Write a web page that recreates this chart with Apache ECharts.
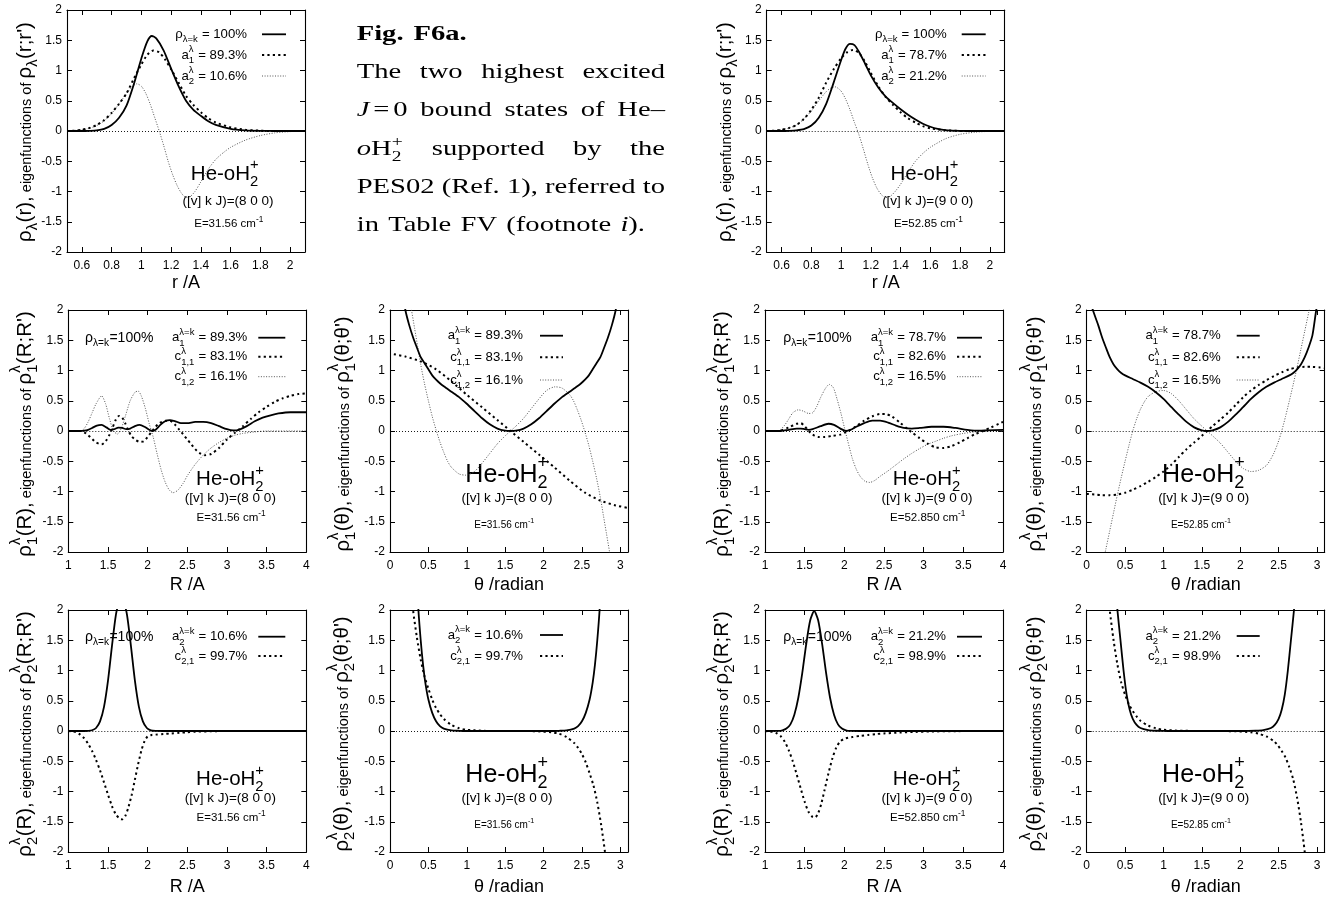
<!DOCTYPE html>
<html>
<head>
<meta charset="utf-8">
<script src="https://cdn.jsdelivr.net/npm/echarts@6.0.0/dist/echarts.min.js"></script>
<style>
  html, body { margin: 0; padding: 0; background: #fff; }
  #chart { width: 1333px; height: 897px; }
</style>
</head>
<body>
<div id="chart"></div>
<script>
// ---------------------------------------------------------------------------
// Axis ticks
// ---------------------------------------------------------------------------
const rTicks = [0.6, 0.8, 1, 1.2, 1.4, 1.6, 1.8, 2];
const RTicks = [1, 1.5, 2, 2.5, 3, 3.5, 4];
const thTicks = [0, 0.5, 1, 1.5, 2, 2.5, 3];
const yTicks = [-2, -1.5, -1, -0.5, 0, 0.5, 1, 1.5, 2];

// ---------------------------------------------------------------------------
// Top row: r-coordinate density and its eigenfunctions, states (8 0 0) / (9 0 0)
// ---------------------------------------------------------------------------
const r8_rho = [[0.5,0],[0.6,0],[0.65,0.003],[0.7,0.01],[0.75,0.035],[0.8,0.1],[0.85,0.22],[0.9,0.42],[0.95,0.78],[1.0,1.2],[1.04,1.48],[1.07,1.57],[1.1,1.53],[1.15,1.33],[1.2,1.03],[1.25,0.74],[1.3,0.5],[1.35,0.35],[1.4,0.25],[1.45,0.16],[1.5,0.1],[1.6,0.035],[1.7,0.01],[1.8,0.002],[1.9,0],[2.1,0]];
const r8_a1 = [[0.5,0],[0.55,0.005],[0.6,0.02],[0.65,0.05],[0.7,0.1],[0.75,0.18],[0.8,0.3],[0.85,0.45],[0.9,0.62],[0.95,0.87],[1.0,1.1],[1.04,1.26],[1.08,1.33],[1.12,1.3],[1.16,1.18],[1.2,1.02],[1.25,0.8],[1.3,0.58],[1.35,0.43],[1.4,0.31],[1.45,0.21],[1.5,0.14],[1.6,0.06],[1.7,0.02],[1.8,0.005],[1.9,0],[2.1,0]];
const r8_a2 = [[0.5,0],[0.6,0.02],[0.65,0.045],[0.7,0.09],[0.75,0.17],[0.8,0.29],[0.85,0.45],[0.9,0.62],[0.94,0.74],[0.97,0.78],[1.0,0.74],[1.03,0.62],[1.06,0.44],[1.09,0.22],[1.12,0],[1.15,-0.24],[1.18,-0.5],[1.21,-0.72],[1.24,-0.9],[1.27,-1.03],[1.3,-1.1],[1.33,-1.08],[1.36,-1.0],[1.4,-0.84],[1.45,-0.63],[1.5,-0.47],[1.55,-0.36],[1.6,-0.27],[1.7,-0.15],[1.8,-0.075],[1.9,-0.03],[2.0,-0.01],[2.1,0]];

const r9_rho = [[0.5,0],[0.6,0],[0.65,0.003],[0.7,0.01],[0.75,0.03],[0.8,0.09],[0.85,0.22],[0.9,0.45],[0.95,0.8],[1.0,1.17],[1.03,1.36],[1.06,1.44],[1.09,1.42],[1.12,1.31],[1.16,1.12],[1.2,0.92],[1.25,0.72],[1.3,0.57],[1.35,0.46],[1.4,0.36],[1.45,0.27],[1.5,0.19],[1.55,0.12],[1.6,0.07],[1.65,0.035],[1.7,0.015],[1.8,0.003],[1.9,0],[2.1,0]];
const r9_a1 = [[0.5,0],[0.55,0.005],[0.6,0.02],[0.65,0.05],[0.7,0.1],[0.75,0.2],[0.8,0.35],[0.85,0.55],[0.9,0.8],[0.95,1.02],[1.0,1.2],[1.04,1.3],[1.08,1.34],[1.12,1.29],[1.16,1.15],[1.2,0.96],[1.25,0.74],[1.3,0.56],[1.35,0.43],[1.4,0.31],[1.45,0.21],[1.5,0.14],[1.55,0.08],[1.6,0.045],[1.7,0.012],[1.8,0.002],[1.9,0],[2.1,0]];
const r9_a2 = [[0.5,0],[0.6,0.02],[0.65,0.05],[0.7,0.1],[0.75,0.2],[0.8,0.33],[0.85,0.5],[0.9,0.65],[0.93,0.71],[0.96,0.73],[1.0,0.66],[1.03,0.53],[1.06,0.35],[1.09,0.14],[1.12,-0.06],[1.15,-0.3],[1.18,-0.55],[1.21,-0.77],[1.24,-0.94],[1.27,-1.05],[1.3,-1.1],[1.33,-1.08],[1.36,-1.01],[1.4,-0.88],[1.45,-0.68],[1.5,-0.5],[1.55,-0.37],[1.6,-0.27],[1.7,-0.13],[1.8,-0.055],[1.9,-0.02],[2.0,-0.005],[2.1,0]];

// ---------------------------------------------------------------------------
// Middle row: first eigenvector (λ = 1), R and θ factors
// ---------------------------------------------------------------------------
const R8_1_a = [[1,0],[1.15,0],[1.2,0.005],[1.25,0.02],[1.3,0.05],[1.36,0.09],[1.42,0.1],[1.48,0.06],[1.53,0.02],[1.58,0.03],[1.63,0.055],[1.68,0.05],[1.73,0.03],[1.78,0.04],[1.84,0.08],[1.9,0.1],[1.96,0.07],[2.02,0.02],[2.06,0],[2.1,0.02],[2.16,0.1],[2.22,0.16],[2.28,0.18],[2.35,0.16],[2.42,0.13],[2.5,0.13],[2.6,0.15],[2.7,0.15],[2.8,0.13],[2.9,0.08],[3.0,0.03],[3.08,0.01],[3.15,0.02],[3.25,0.08],[3.35,0.16],[3.45,0.22],[3.55,0.26],[3.65,0.29],[3.8,0.31],[3.9,0.31],[4.0,0.31]];
const R8_1_c11 = [[1,0],[1.15,0],[1.2,-0.02],[1.25,-0.07],[1.3,-0.13],[1.35,-0.19],[1.42,-0.22],[1.47,-0.17],[1.52,-0.06],[1.56,0.06],[1.6,0.19],[1.64,0.25],[1.68,0.22],[1.72,0.12],[1.76,0],[1.8,-0.09],[1.85,-0.15],[1.9,-0.18],[1.95,-0.17],[2.0,-0.1],[2.05,-0.01],[2.1,0.07],[2.15,0.13],[2.22,0.17],[2.28,0.17],[2.34,0.11],[2.4,0.02],[2.45,-0.06],[2.5,-0.14],[2.55,-0.22],[2.6,-0.3],[2.65,-0.36],[2.72,-0.4],[2.8,-0.38],[2.9,-0.28],[3.0,-0.14],[3.1,-0.03],[3.2,0.08],[3.3,0.2],[3.4,0.31],[3.5,0.4],[3.6,0.48],[3.7,0.54],[3.8,0.58],[3.9,0.61],[4.0,0.62]];
const R8_1_c12 = [[1,0],[1.15,0],[1.2,0.04],[1.25,0.15],[1.3,0.3],[1.35,0.45],[1.42,0.58],[1.47,0.45],[1.52,0.2],[1.57,0],[1.62,-0.05],[1.67,0.05],[1.72,0.25],[1.78,0.5],[1.84,0.64],[1.88,0.66],[1.92,0.58],[1.97,0.38],[2.02,0.12],[2.07,-0.1],[2.12,-0.38],[2.17,-0.64],[2.22,-0.84],[2.27,-0.97],[2.32,-1.02],[2.38,-0.98],[2.45,-0.86],[2.5,-0.74],[2.6,-0.55],[2.7,-0.4],[2.8,-0.28],[2.9,-0.19],[3.0,-0.12],[3.1,-0.07],[3.2,-0.04],[3.35,-0.015],[3.5,0],[4.0,0]];

const T8_1_a = [[0.15,2.4],[0.2,2.0],[0.25,1.75],[0.3,1.55],[0.35,1.38],[0.4,1.22],[0.45,1.12],[0.5,1.02],[0.55,0.92],[0.6,0.85],[0.65,0.79],[0.7,0.74],[0.8,0.65],[0.9,0.56],[1.0,0.45],[1.1,0.33],[1.2,0.21],[1.3,0.11],[1.4,0.04],[1.5,0.005],[1.57,0],[1.64,0.005],[1.74,0.04],[1.84,0.11],[1.94,0.21],[2.04,0.33],[2.14,0.45],[2.24,0.56],[2.34,0.65],[2.44,0.74],[2.49,0.79],[2.54,0.85],[2.59,0.92],[2.64,1.02],[2.69,1.12],[2.74,1.22],[2.79,1.38],[2.84,1.55],[2.89,1.75],[2.94,2.0],[2.99,2.4]];
const T8_1_c11 = [[0.05,1.27],[0.2,1.23],[0.4,1.15],[0.6,1.02],[0.8,0.82],[1.0,0.6],[1.2,0.39],[1.4,0.18],[1.57,0],[1.74,-0.18],[1.94,-0.39],[2.14,-0.6],[2.34,-0.82],[2.54,-1.02],[2.74,-1.15],[2.94,-1.23],[3.09,-1.27]];
const T8_1_c12 = [[0.24,2.3],[0.28,2.0],[0.32,1.7],[0.36,1.4],[0.4,1.1],[0.45,0.78],[0.5,0.5],[0.55,0.24],[0.6,0.02],[0.65,-0.18],[0.7,-0.35],[0.75,-0.5],[0.8,-0.6],[0.9,-0.71],[0.99,-0.73],[1.1,-0.67],[1.2,-0.53],[1.3,-0.37],[1.4,-0.21],[1.5,-0.08],[1.57,0],[1.64,0.08],[1.74,0.21],[1.84,0.37],[1.94,0.53],[2.04,0.67],[2.15,0.73],[2.24,0.71],[2.34,0.6],[2.39,0.5],[2.44,0.35],[2.49,0.18],[2.54,-0.02],[2.59,-0.24],[2.64,-0.5],[2.69,-0.78],[2.74,-1.1],[2.78,-1.4],[2.82,-1.7],[2.86,-2.0],[2.9,-2.3]];

const R9_1_a = [[1,0],[1.2,0],[1.3,0.02],[1.4,0.04],[1.45,0.04],[1.5,0.03],[1.55,0.02],[1.6,0.03],[1.7,0.08],[1.8,0.12],[1.87,0.1],[1.95,0.04],[2.02,0],[2.08,0.02],[2.15,0.07],[2.25,0.13],[2.35,0.17],[2.45,0.17],[2.55,0.14],[2.65,0.09],[2.75,0.05],[2.85,0.04],[2.95,0.05],[3.1,0.07],[3.25,0.07],[3.4,0.05],[3.55,0.02],[3.7,0.005],[3.8,0.01],[4.0,0.02]];
const R9_1_c11 = [[1,0],[1.15,0],[1.2,0.01],[1.3,0.06],[1.4,0.12],[1.45,0.13],[1.5,0.08],[1.55,0],[1.6,-0.06],[1.67,-0.1],[1.75,-0.1],[1.85,-0.08],[1.95,-0.06],[2.0,-0.03],[2.05,0],[2.15,0.08],[2.25,0.17],[2.35,0.24],[2.45,0.28],[2.52,0.28],[2.6,0.24],[2.7,0.14],[2.8,0.03],[2.85,-0.02],[2.95,-0.12],[3.05,-0.21],[3.15,-0.27],[3.25,-0.28],[3.35,-0.25],[3.45,-0.19],[3.55,-0.12],[3.65,-0.05],[3.75,0],[3.85,0.06],[3.95,0.12],[4.0,0.15]];
const R9_1_c12 = [[1,0],[1.15,0],[1.2,0.03],[1.25,0.1],[1.3,0.2],[1.35,0.3],[1.42,0.35],[1.48,0.33],[1.55,0.29],[1.6,0.3],[1.65,0.4],[1.7,0.55],[1.76,0.7],[1.81,0.77],[1.86,0.72],[1.91,0.52],[1.96,0.28],[2.0,0.06],[2.04,-0.15],[2.1,-0.45],[2.15,-0.63],[2.2,-0.75],[2.26,-0.83],[2.32,-0.85],[2.38,-0.82],[2.45,-0.75],[2.55,-0.66],[2.65,-0.56],[2.75,-0.46],[2.85,-0.37],[2.95,-0.29],[3.05,-0.22],[3.15,-0.17],[3.25,-0.12],[3.35,-0.08],[3.5,-0.04],[3.65,-0.015],[3.8,0],[4.0,0]];

const T9_1_a = [[0.02,2.25],[0.08,2.0],[0.15,1.75],[0.2,1.55],[0.25,1.38],[0.3,1.22],[0.35,1.1],[0.4,1.02],[0.45,0.96],[0.5,0.92],[0.6,0.86],[0.7,0.8],[0.8,0.73],[0.9,0.64],[1.0,0.53],[1.1,0.4],[1.2,0.27],[1.3,0.15],[1.4,0.06],[1.5,0.01],[1.57,0],[1.64,0.01],[1.74,0.06],[1.84,0.15],[1.94,0.27],[2.04,0.4],[2.14,0.53],[2.24,0.64],[2.34,0.73],[2.44,0.8],[2.54,0.86],[2.64,0.92],[2.69,0.96],[2.74,1.02],[2.79,1.1],[2.84,1.22],[2.89,1.38],[2.94,1.58],[2.99,2.0],[3.05,2.4]];
const T9_1_c11 = [[0,-1.04],[0.1,-1.05],[0.2,-1.06],[0.3,-1.06],[0.4,-1.05],[0.5,-1.02],[0.6,-0.97],[0.7,-0.91],[0.8,-0.84],[0.9,-0.76],[1.0,-0.67],[1.1,-0.56],[1.2,-0.43],[1.3,-0.3],[1.4,-0.19],[1.5,-0.08],[1.57,0],[1.64,0.08],[1.74,0.19],[1.84,0.3],[1.94,0.43],[2.04,0.56],[2.14,0.67],[2.24,0.76],[2.34,0.84],[2.44,0.91],[2.54,0.97],[2.64,1.02],[2.74,1.05],[2.84,1.06],[2.94,1.06],[3.04,1.05],[3.1,1.04]];
const T9_1_c12 = [[0.2,-2.25],[0.25,-1.95],[0.3,-1.65],[0.35,-1.35],[0.4,-1.05],[0.45,-0.77],[0.5,-0.5],[0.55,-0.24],[0.6,0],[0.65,0.2],[0.7,0.36],[0.75,0.48],[0.8,0.57],[0.9,0.65],[1.0,0.67],[1.1,0.62],[1.2,0.5],[1.3,0.35],[1.4,0.2],[1.5,0.08],[1.57,0],[1.64,-0.08],[1.74,-0.2],[1.84,-0.35],[1.94,-0.5],[2.04,-0.62],[2.14,-0.67],[2.24,-0.65],[2.34,-0.57],[2.39,-0.48],[2.44,-0.36],[2.49,-0.2],[2.54,0],[2.59,0.24],[2.64,0.5],[2.69,0.77],[2.74,1.05],[2.79,1.35],[2.84,1.65],[2.89,1.95],[2.94,2.25]];

// ---------------------------------------------------------------------------
// Bottom row: second eigenvector (λ = 2), R and θ factors
// ---------------------------------------------------------------------------
const R8_2_a = [[1,0],[1.2,0],[1.25,0.002],[1.3,0.012],[1.35,0.05],[1.4,0.16],[1.45,0.4],[1.5,0.83],[1.55,1.4],[1.6,1.92],[1.64,2.12],[1.67,2.15],[1.7,2.12],[1.74,1.92],[1.79,1.4],[1.84,0.83],[1.89,0.4],[1.94,0.16],[1.99,0.05],[2.04,0.012],[2.1,0.002],[2.2,0],[4,0]];
const R8_2_c21 = [[1,0],[1.05,-0.005],[1.1,-0.02],[1.15,-0.06],[1.2,-0.12],[1.25,-0.21],[1.3,-0.33],[1.35,-0.48],[1.4,-0.65],[1.45,-0.85],[1.5,-1.05],[1.55,-1.24],[1.6,-1.38],[1.65,-1.45],[1.68,-1.46],[1.72,-1.4],[1.76,-1.25],[1.8,-1.05],[1.84,-0.8],[1.88,-0.55],[1.92,-0.33],[1.96,-0.17],[2.0,-0.09],[2.05,-0.065],[2.1,-0.06],[2.2,-0.05],[2.3,-0.04],[2.4,-0.03],[2.5,-0.02],[2.6,-0.012],[2.8,-0.005],[3.0,0],[4,0]];

const T8_2_a = [[0.3,3.5],[0.35,2.5],[0.37,2.0],[0.4,1.5],[0.43,1.1],[0.46,0.8],[0.5,0.52],[0.55,0.3],[0.6,0.16],[0.65,0.08],[0.7,0.04],[0.8,0.01],[0.9,0.003],[1.0,0],[2.1,0],[2.2,0.003],[2.3,0.01],[2.4,0.04],[2.45,0.08],[2.5,0.16],[2.55,0.3],[2.6,0.52],[2.64,0.8],[2.67,1.1],[2.7,1.5],[2.73,2.0],[2.75,2.5],[2.8,3.5]];
const T8_2_c21 = [[0.25,2.6],[0.3,2.0],[0.35,1.55],[0.4,1.18],[0.45,0.9],[0.5,0.7],[0.55,0.52],[0.6,0.38],[0.65,0.28],[0.7,0.2],[0.8,0.1],[0.9,0.045],[1.0,0.02],[1.2,0.004],[1.4,0],[1.7,0],[1.9,-0.004],[2.1,-0.02],[2.2,-0.045],[2.3,-0.1],[2.4,-0.2],[2.45,-0.28],[2.5,-0.38],[2.55,-0.52],[2.6,-0.7],[2.65,-0.9],[2.7,-1.18],[2.75,-1.55],[2.8,-2.0],[2.85,-2.6]];

const R9_2_a = [[1,0],[1.17,0.002],[1.22,0.012],[1.27,0.04],[1.32,0.11],[1.37,0.27],[1.42,0.55],[1.47,0.96],[1.52,1.44],[1.57,1.83],[1.62,1.98],[1.67,1.83],[1.72,1.44],[1.77,0.96],[1.82,0.55],[1.87,0.27],[1.92,0.11],[1.97,0.04],[2.02,0.012],[2.07,0.002],[2.2,0],[4,0]];
const R9_2_c21 = [[1,0],[1.05,-0.005],[1.1,-0.015],[1.15,-0.04],[1.2,-0.09],[1.25,-0.18],[1.3,-0.32],[1.35,-0.5],[1.4,-0.72],[1.45,-0.95],[1.5,-1.17],[1.55,-1.34],[1.6,-1.42],[1.63,-1.43],[1.67,-1.36],[1.71,-1.2],[1.75,-0.98],[1.8,-0.7],[1.85,-0.45],[1.9,-0.27],[1.95,-0.17],[2.0,-0.13],[2.05,-0.11],[2.1,-0.1],[2.2,-0.08],[2.3,-0.065],[2.4,-0.05],[2.5,-0.04],[2.7,-0.025],[2.9,-0.015],[3.1,-0.008],[3.4,-0.003],[3.7,0],[4,0]];

const T9_2_a = [[0.36,2.6],[0.4,2.0],[0.44,1.5],[0.48,1.0],[0.52,0.6],[0.56,0.35],[0.6,0.2],[0.65,0.1],[0.7,0.05],[0.8,0.015],[0.9,0.004],[1.0,0.001],[1.1,0],[2.0,0],[2.1,0.001],[2.2,0.004],[2.3,0.015],[2.4,0.05],[2.45,0.1],[2.5,0.2],[2.54,0.35],[2.58,0.6],[2.62,1.0],[2.66,1.5],[2.7,2.0],[2.74,2.6]];
const T9_2_c21 = [[0.26,2.5],[0.3,2.0],[0.35,1.5],[0.4,1.1],[0.45,0.8],[0.5,0.6],[0.55,0.44],[0.6,0.33],[0.65,0.24],[0.7,0.17],[0.8,0.09],[0.9,0.045],[1.0,0.02],[1.2,0.005],[1.4,0.001],[1.57,0],[1.74,-0.001],[1.94,-0.005],[2.14,-0.02],[2.24,-0.045],[2.34,-0.09],[2.44,-0.17],[2.49,-0.24],[2.54,-0.33],[2.59,-0.44],[2.64,-0.6],[2.69,-0.8],[2.74,-1.1],[2.79,-1.5],[2.84,-2.0],[2.88,-2.5]];

// ---------------------------------------------------------------------------
// Weights, state labels and energies
// ---------------------------------------------------------------------------
const pct8 = { rho: '100%', a1: '89.3%', a2: '10.6%', c11: '83.1%', c12: '16.1%', c21: '99.7%' };
const pct9 = { rho: '100%', a1: '78.7%', a2: '21.2%', c11: '82.6%', c12: '16.5%', c21: '98.9%' };
const state8 = '([v] k J)=(8 0 0)';
const state9 = '([v] k J)=(9 0 0)';
const energy8 = 'E=31.56 cm';
const energy9 = 'E=52.85 cm';
const energy9R = 'E=52.850 cm';

// ---------------------------------------------------------------------------
// Small text-layout helpers (runs, stacked super/subscripts)
// ---------------------------------------------------------------------------
const SANS = '"Liberation Sans", Arial, Helvetica, sans-serif';
const SERIF = '"Liberation Serif", "Times New Roman", serif';
const mctx = document.createElement('canvas').getContext('2d');
function textWidth(t, fs, fam, st, wt) {
  mctx.font = (st || 'normal') + ' ' + (wt || 'normal') + ' ' + fs + 'px ' + fam;
  return mctx.measureText(t).width;
}
const T = (t, fs, o) => Object.assign({ t: t, fs: fs }, o || {});
const SS = (sup, sub, fs, o) => Object.assign({ stack: true, sup: sup, sub: sub, fs: fs }, o || {});
const GAP = px => ({ gap: px });

function layout(pieces, fam) {
  let x = 0;
  const runs = [];
  pieces.forEach(p => {
    if (p.gap != null) { x += p.gap; return; }
    const f = p.fam || fam;
    if (p.stack) {
      const s = p.sfs || p.fs * 0.72;
      let w = 0;
      if (p.sup) {
        runs.push({ t: p.sup, x: x, dy: -p.fs * (p.supUp != null ? p.supUp : 0.5), fs: s, fam: f, st: p.st, wt: p.wt });
        w = Math.max(w, textWidth(p.sup, s, f, p.st, p.wt));
      }
      if (p.sub) {
        runs.push({ t: p.sub, x: x, dy: p.fs * (p.subDown != null ? p.subDown : 0.3), fs: s, fam: f, st: p.st, wt: p.wt });
        w = Math.max(w, textWidth(p.sub, s, f, p.st, p.wt));
      }
      x += w + (p.after != null ? p.after : 0.5);
      return;
    }
    runs.push({ t: p.t, x: x, dy: p.dy || 0, fs: p.fs, fam: f, st: p.st, wt: p.wt });
    x += textWidth(p.t, p.fs, f, p.st, p.wt);
  });
  return { runs: runs, width: x };
}

function runsToChildren(runs, off, base, fill) {
  return runs.map(r => ({
    type: 'text', silent: true,
    x: off + r.x, y: base + r.dy - 0.35 * r.fs,
    style: {
      text: r.t, fontSize: r.fs, fontFamily: r.fam,
      fontStyle: r.st || 'normal', fontWeight: r.wt || 'normal',
      fill: fill || '#000', align: 'left', verticalAlign: 'middle'
    }
  }));
}

// o: x, y (anchor), align, rotation, baseline (local baseline offset), fam
function mathText(pieces, o) {
  const L = layout(pieces, o.fam || SANS);
  const off = o.align === 'center' ? -L.width / 2 : (o.align === 'right' ? -L.width : 0);
  return {
    type: 'group', x: o.x, y: o.y, rotation: o.rotation || 0, silent: true,
    children: runsToChildren(L.runs, off, o.baseline || 0, o.fill)
  };
}

// ---------------------------------------------------------------------------
// Panel text: legends, axis titles, annotations
// ---------------------------------------------------------------------------
const LF = 13.2;
const legTop = p => [
  [T('ρ', LF), SS(null, 'λ=k', LF, { subDown: 0.3 }), T(' = ' + p.rho, LF)],
  [T('a', LF), SS('λ', '1', LF), T(' = ' + p.a1, LF)],
  [T('a', LF), SS('λ', '2', LF), T(' = ' + p.a2, LF)]
];
const legMid = p => [
  [T('a', LF), SS('λ=k', '1', LF), T(' = ' + p.a1, LF)],
  [T('c', LF), SS('λ', '1,1', LF), T(' = ' + p.c11, LF)],
  [T('c', LF), SS('λ', '1,2', LF), T(' = ' + p.c12, LF)]
];
const legBot = p => [
  [T('a', LF), SS('λ=k', '2', LF), T(' = ' + p.a2, LF)],
  [T('c', LF), SS('λ', '2,1', LF), T(' = ' + p.c21, LF)]
];
const rhoLabel = [T('ρ', 14), SS(null, 'λ=k', 14, { subDown: 0.3 }), T('=100%', 14)];

const YF = 20.5, yf = 14.5;
function yTitle(v, n) {
  const rho = n
    ? [T('ρ', YF), SS('λ', String(n), YF, { supUp: 0.52, subDown: 0.3 })]
    : [T('ρ', YF), SS(null, 'λ', YF, { subDown: 0.3 })];
  return rho.concat([T('(' + v + '),', YF), T(' eigenfunctions of ', yf)], rho, [T('(' + v + ';' + v + "')", YF)]);
}

const AX = {
  r: { min: 0.5, max: 2.1, ticks: rTicks, name: 'r /A' },
  R: { min: 1, max: 4, ticks: RTicks, name: 'R /A' },
  T: { min: 0, max: 3.1, ticks: thTicks, name: 'θ /radian' }
};

// annotation placement per panel type, relative to the plot area
const ANN = {
  r: { he: [158, 171.5], st: [161, 196], en: [162, 218], hf: 20.5, sf: 13.5, ef: 11.5 },
  R: { he: [162, 177], st: [162, 193.5], en: [163, 212], hf: 20.5, sf: 13.5, ef: 11.5 },
  T: { he: [117, 173.5], st: [117, 193.2], en: [114.5, 218.5], hf: 25, sf: 13.5, ef: 10 }
};

const STY = {
  solid: { color: '#000', width: 1.8, type: 'solid' },
  dash: { color: '#000', width: 2, type: [2.2, 3.2] },
  dot: { color: '#555', width: 1, type: [1, 1.6] }
};
const STY_ORDER = ['solid', 'dash', 'dot'];

const panels = [
  { pos: [67, 10], kind: 'r', gap: 22, data: [r8_rho, r8_a1, r8_a2], leg: legTop(pct8), legRight: 180, legRows: [24.3, 45, 66], sample: [195, 219],
    state: state8, energy: energy8, title: [25, 132, yTitle('r', 0)] },
  { pos: [766.7, 10], kind: 'r', gap: 22, data: [r9_rho, r9_a1, r9_a2], leg: legTop(pct9), legRight: 180, legRows: [24.3, 45, 66], sample: [195, 219],
    state: state9, energy: energy9, title: [725, 132, yTitle('r', 0)] },
  { pos: [68.3, 310], kind: 'R', gap: 24, data: [R8_1_a, R8_1_c11, R8_1_c12], leg: legMid(pct8), legRight: 179, legRows: [27.7, 46.7, 66.7], sample: [190, 217],
    rho: [16.7, 28], state: state8, energy: energy8, title: [25, 434, yTitle('R', 1)] },
  { pos: [390, 310], kind: 'T', gap: 24, data: [T8_1_a, T8_1_c11, T8_1_c12], leg: legMid(pct8), legRight: 133, legRows: [25.7, 47.3, 70], sample: [150, 173],
    state: state8, energy: energy8, title: [343, 434, yTitle('θ', 1)] },
  { pos: [765, 310], kind: 'R', gap: 24, data: [R9_1_a, R9_1_c11, R9_1_c12], leg: legMid(pct9), legRight: 181, legRows: [27.7, 46.7, 66.7], sample: [192, 217],
    rho: [18.3, 28], state: state9, energy: energy9R, title: [722, 434, yTitle('R', 1)] },
  { pos: [1086.7, 310], kind: 'T', gap: 24, data: [T9_1_a, T9_1_c11, T9_1_c12], leg: legMid(pct9), legRight: 134, legRows: [25.7, 47.3, 70], sample: [150, 173],
    state: state9, energy: energy9, title: [1035, 434, yTitle('θ', 1)] },
  { pos: [68.3, 610], kind: 'R', gap: 26, data: [R8_2_a, R8_2_c21], leg: legBot(pct8), legRight: 179, legRows: [26.7, 46], sample: [190, 217],
    rho: [16.7, 27], state: state8, energy: energy8, title: [25, 734, yTitle('R', 2)] },
  { pos: [390, 610], kind: 'T', gap: 26, data: [T8_2_a, T8_2_c21], leg: legBot(pct8), legRight: 133, legRows: [25, 46], sample: [150, 173],
    state: state8, energy: energy8, title: [342, 734, yTitle('θ', 2)] },
  { pos: [765, 610], kind: 'R', gap: 26, data: [R9_2_a, R9_2_c21], leg: legBot(pct9), legRight: 181, legRows: [26.7, 46], sample: [192, 217],
    rho: [18.3, 27], state: state9, energy: energy9R, title: [722, 734, yTitle('R', 2)] },
  { pos: [1086.7, 610], kind: 'T', gap: 26, data: [T9_2_a, T9_2_c21], leg: legBot(pct9), legRight: 134, legRows: [26, 46], sample: [150, 173],
    state: state9, energy: energy9, title: [1035, 734, yTitle('θ', 2)] }
];

// ---------------------------------------------------------------------------
// Build the option
// ---------------------------------------------------------------------------
const GW = 238, GH = 242;
const grid = [], xAxis = [], yAxis = [], series = [], graphic = [];
const TICK_FS = 12;

panels.forEach((p, i) => {
  const gl = p.pos[0], gt = p.pos[1];
  const ax = AX[p.kind];
  grid.push({ left: gl, top: gt, width: GW, height: GH, containLabel: false, outerBoundsMode: 'none' });

  const lineS = { show: true, onZero: false, lineStyle: { color: '#000', width: 1.1 } };
  const xTick = { show: true, inside: true, length: 5, customValues: ax.ticks, lineStyle: { color: '#000', width: 1 } };
  const yTick = { show: true, inside: true, length: 5, customValues: yTicks, lineStyle: { color: '#000', width: 1 } };

  xAxis.push({
    type: 'value', gridIndex: i, position: 'bottom', min: ax.min, max: ax.max,
    axisLine: lineS, axisTick: xTick, splitLine: { show: false },
    axisLabel: { show: true, customValues: ax.ticks, formatter: v => String(v), fontSize: TICK_FS, fontFamily: SANS, color: '#000', margin: 8 },
    name: ax.name, nameLocation: 'middle', nameGap: p.gap, nameMoveOverlap: false,
    nameTextStyle: { fontSize: 18, fontFamily: SANS, color: '#000' }
  });
  xAxis.push({
    type: 'value', gridIndex: i, position: 'top', min: ax.min, max: ax.max,
    axisLine: lineS, axisTick: xTick, splitLine: { show: false }, axisLabel: { show: false }
  });
  yAxis.push({
    type: 'value', gridIndex: i, position: 'left', min: -2, max: 2,
    axisLine: lineS, axisTick: yTick, splitLine: { show: false },
    axisLabel: { show: true, customValues: yTicks, formatter: v => String(v), fontSize: TICK_FS, fontFamily: SANS, color: '#000', margin: 5 }
  });
  yAxis.push({
    type: 'value', gridIndex: i, position: 'right', min: -2, max: 2,
    axisLine: lineS, axisTick: yTick, splitLine: { show: false }, axisLabel: { show: false }
  });

  p.data.forEach((d, k) => {
    const s = {
      type: 'line', xAxisIndex: 2 * i, yAxisIndex: 2 * i, data: d,
      showSymbol: false, symbol: 'none', smooth: 0.25, clip: true, silent: true,
      lineStyle: Object.assign({}, STY[STY_ORDER[k]]), z: 5 - k
    };
    if (k === 0) {
      s.markLine = {
        silent: true, symbol: ['none', 'none'], label: { show: false }, animation: false,
        lineStyle: { color: '#000', width: 0.9, type: [1, 2] }, data: [{ yAxis: 0 }]
      };
    }
    series.push(s);
  });

  // key: label text + line sample
  p.leg.forEach((pieces, k) => {
    const cy = gt + p.legRows[k];
    graphic.push(mathText(pieces, { x: gl + p.legRight, y: cy + 0.36 * LF, align: 'right' }));
    const st = STY[STY_ORDER[k]];
    graphic.push({
      type: 'line', silent: true,
      shape: { x1: gl + p.sample[0], y1: cy, x2: gl + p.sample[1], y2: cy },
      style: { stroke: st.color, lineWidth: st.width, lineDash: st.type === 'solid' ? null : st.type }
    });
  });
  if (p.rho) {
    graphic.push(mathText(rhoLabel, { x: gl + p.rho[0], y: gt + p.rho[1] + 0.36 * 14, align: 'left' }));
  }

  // molecule, state and energy
  const A = ANN[p.kind];
  graphic.push(mathText([T('He-oH', A.hf), SS('+', '2', A.hf, { supUp: 0.55, subDown: 0.25 })],
    { x: gl + A.he[0], y: gt + A.he[1], align: 'center' }));
  graphic.push(mathText([T(p.state, A.sf)], { x: gl + A.st[0], y: gt + A.st[1], align: 'center' }));
  graphic.push(mathText([T(p.energy, A.ef), SS('-1', null, A.ef, { supUp: 0.45 })],
    { x: gl + A.en[0], y: gt + A.en[1], align: 'center' }));

  // vertical axis title
  graphic.push(mathText(p.title[2], { x: p.title[0], y: p.title[1], align: 'center', rotation: Math.PI / 2, baseline: 0.35 * YF }));
});

// ---------------------------------------------------------------------------
// Caption block (justified)
// ---------------------------------------------------------------------------
const CF = 22, CS = 1.3;
const W = (w, o) => [T(w, CF, Object.assign({ fam: SERIF }, o || {}))];
const caption = [
  { y: 41.7, x1: 466.7, words: [W('Fig.', { wt: 'bold' }), W('F6a.', { wt: 'bold' })] },
  { y: 80, x1: 665, words: [W('The'), W('two'), W('highest'), W('excited')] },
  { y: 118.3, x1: 665, words: [
      [T('J', CF, { fam: SERIF, st: 'italic' }), GAP(3), T('=', CF, { fam: SERIF }), GAP(3), T('0', CF, { fam: SERIF })],
      W('bound'), W('states'), W('of'), W('He–')] },
  { y: 156.7, x1: 665, words: [
      [T('o', CF, { fam: SERIF, st: 'italic' }), T('H', CF, { fam: SERIF }), SS('+', '2', CF, { fam: SERIF, supUp: 0.42, subDown: 0.25, sfs: 15 })],
      W('supported'), W('by'), W('the')] },
  { y: 195, x1: 665, words: [W('PES02'), W('(Ref.'), W('1),'), W('referred'), W('to')] },
  { y: 233.3, x1: 645, words: [W('in'), W('Table'), W('FV'), W('(footnote'),
      [T('i', CF, { fam: SERIF, st: 'italic' }), T(').', CF, { fam: SERIF })]] }
];
const CX0 = 356.7;
caption.forEach(line => {
  const lays = line.words.map(w => layout(w, SERIF));
  const sum = lays.reduce((a, l) => a + l.width, 0);
  const target = (line.x1 - CX0) / CS;
  const gap = lays.length > 1 ? (target - sum) / (lays.length - 1) : 0;
  let x = 0;
  const children = [];
  lays.forEach(l => {
    children.push.apply(children, runsToChildren(l.runs, x, 0, '#000'));
    x += l.width + gap;
  });
  graphic.push({ type: 'group', x: CX0, y: line.y, scaleX: CS, silent: true, children: children });
});

const chart = echarts.init(document.getElementById('chart'), null, { renderer: 'canvas', width: 1333, height: 897 });
chart.setOption({
  animation: false,
  backgroundColor: '#fff',
  grid: grid, xAxis: xAxis, yAxis: yAxis, series: series,
  graphic: graphic
});
</script>
</body>
</html>
